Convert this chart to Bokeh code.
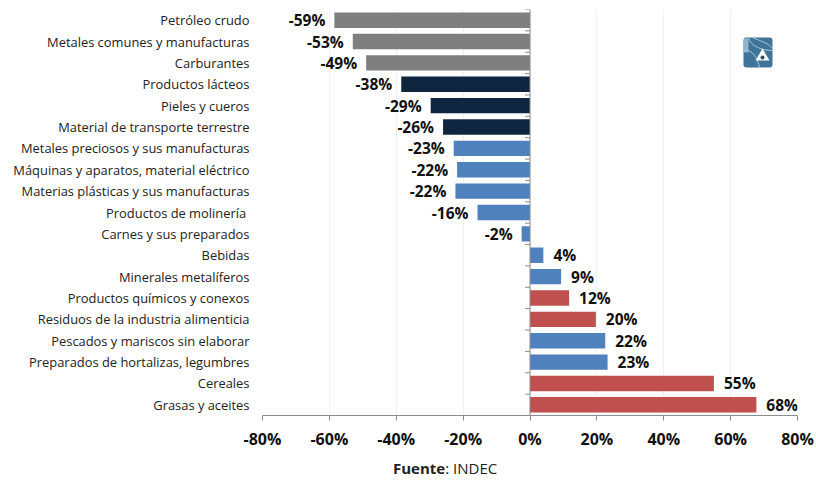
from bokeh.plotting import figure
from bokeh.layouts import column
from bokeh.models import ColumnDataSource, Range1d, FixedTicker, Span, BoxAnnotation, Div
from bokeh.embed import file_html
from bokeh.resources import INLINE
from bokeh.core.properties import value

categories = ["Petróleo crudo","Metales comunes y manufacturas","Carburantes","Productos lácteos","Pieles y cueros","Material de transporte terrestre","Metales preciosos y sus manufacturas","Máquinas y aparatos, material eléctrico","Materias plásticas y sus manufacturas","Productos de molinería ","Carnes y sus preparados","Bebidas","Minerales metalíferos","Productos químicos y conexos","Residuos de la industria alimenticia","Pescados y mariscos sin elaborar","Preparados de hortalizas, legumbres","Cereales","Grasas y aceites"]
values = [-58.5,-53,-49,-38.5,-29.7,-26,-22.8,-21.8,-22.3,-15.7,-2.5,4,9.3,11.7,19.7,22.5,23.2,55.0,67.7]
labels = ["-59%","-53%","-49%","-38%","-29%","-26%","-23%","-22%","-22%","-16%","-2%","4%","9%","12%","20%","22%","23%","55%","68%"]
colors = ["#7f7f7f"]*3+["#10253f"]*3+["#4f81bd"]*7+["#c0504d"]*2+["#4f81bd"]*2+["#c0504d"]*2
ticks = [-80,-60,-40,-20,0,20,40,60,80]
tick_labels = {-80:"-80%",-60:"-60%",-40:"-40%",-20:"-20%",0:"0%",20:"20%",40:"40%",60:"60%",80:"80%"}

W,H=816,456
L,T,B=262,9,H-415
p = figure(width=W,height=H,output_backend="svg",toolbar_location=None,
           x_range=Range1d(-80,80),y_range=Range1d(len(categories)-0.5,-0.5),
           min_border_left=L,min_border_right=W-797,min_border_top=T,min_border_bottom=B)
p.outline_line_color=None
p.ygrid.visible=False
p.xgrid.grid_line_color="#f0f0f0"
p.xgrid.ticker=FixedTicker(ticks=ticks)
ys=list(range(len(categories)))
src=ColumnDataSource(dict(y=ys,v=values,z=[0]*len(ys),c=colors))
p.hbar(y="y",left="z",right="v",height=0.72,fill_color="c",line_color=None,source=src)
neg=[i for i,v in enumerate(values) if v<0]; pos=[i for i,v in enumerate(values) if v>=0]
common=dict(text_baseline="middle",text_font=value("Open Sans"),text_font_size="15.5px",text_font_style="bold",text_color="#111111")
p.text(x=[values[i] for i in neg],y=[ys[i] for i in neg],text=[labels[i] for i in neg],x_offset=-9,y_offset=0,text_align="right",**common)
p.text(x=[values[i] for i in pos],y=[ys[i] for i in pos],text=[labels[i] for i in pos],x_offset=10,y_offset=0,text_align="left",**common)
# zero line and its small ticks
p.add_layout(Span(location=0,dimension="height",line_color="#8c8c8c",line_width=1))
p.segment(x0=[-1.5]*20,x1=[0]*20,y0=[i-0.5 for i in range(20)],y1=[i-0.5 for i in range(20)],line_color="#8c8c8c",line_width=1)
ya=p.yaxis[0]
ya.ticker=FixedTicker(ticks=ys)
ya.major_label_overrides={i:c for i,c in zip(ys,categories)}
ya.axis_line_color=None; ya.major_tick_line_color=None; ya.minor_tick_line_color=None
ya.major_label_text_font="Open Sans"; ya.major_label_text_font_size="12.9px"; ya.major_label_text_color="#222222"
ya.major_label_standoff=7
ax=p.xaxis[0]
ax.ticker=FixedTicker(ticks=ticks)
ax.major_label_overrides=tick_labels
ax.axis_line_color="#8c8c8c"; ax.major_tick_line_color="#8c8c8c"
ax.major_tick_in=0; ax.major_tick_out=5; ax.minor_tick_line_color=None
ax.major_label_text_font="Open Sans"; ax.major_label_text_font_size="16px"
ax.major_label_text_font_style="bold"; ax.major_label_text_color="#111111"
ax.major_label_standoff=7
# logo
def lx(px): return (px-262)/(797-262)*160-80
def ly(py): return (py-9)/(415-9)*19-0.5
p.add_layout(BoxAnnotation(left=lx(743),right=lx(772),top=ly(37),bottom=ly(67),fill_color="#3f7397",fill_alpha=1,line_color=None,border_radius=3,level="underlay"))
p.quad(left=[lx(743.5)],right=[lx(748)],top=[ly(38)],bottom=[ly(52)],fill_color="#8fb3cc",line_color=None)
p.bezier(x0=[lx(748),lx(743),lx(772)],y0=[ly(37),ly(50),ly(48)],x1=[lx(772),lx(759),lx(752)],y1=[ly(50),ly(67),ly(37)],
         cx0=[lx(750),lx(752),lx(768)],cy0=[ly(46),ly(48),ly(42)],cx1=[lx(762),lx(757),lx(758)],cy1=[ly(50),ly(58),ly(40)],line_color="#a9c6da",line_width=1)
p.scatter(x=[lx(762)],y=[ly(56)],marker="triangle",size=14,fill_color="#ffffff",line_color=None)
p.scatter(x=[lx(762)],y=[ly(57)],marker="circle",size=4,fill_color="#2a4f6b",line_color=None)
# source line
src_div=Div(text="<b>Fuente</b>: INDEC",width=200,height=22,margin=(2,0,0,393),
            styles={"font-family":"'Open Sans'","font-size":"15px","color":"#222222","line-height":"20px"})
open("out.html","w").write(file_html(column(p,src_div,spacing=0),INLINE))
